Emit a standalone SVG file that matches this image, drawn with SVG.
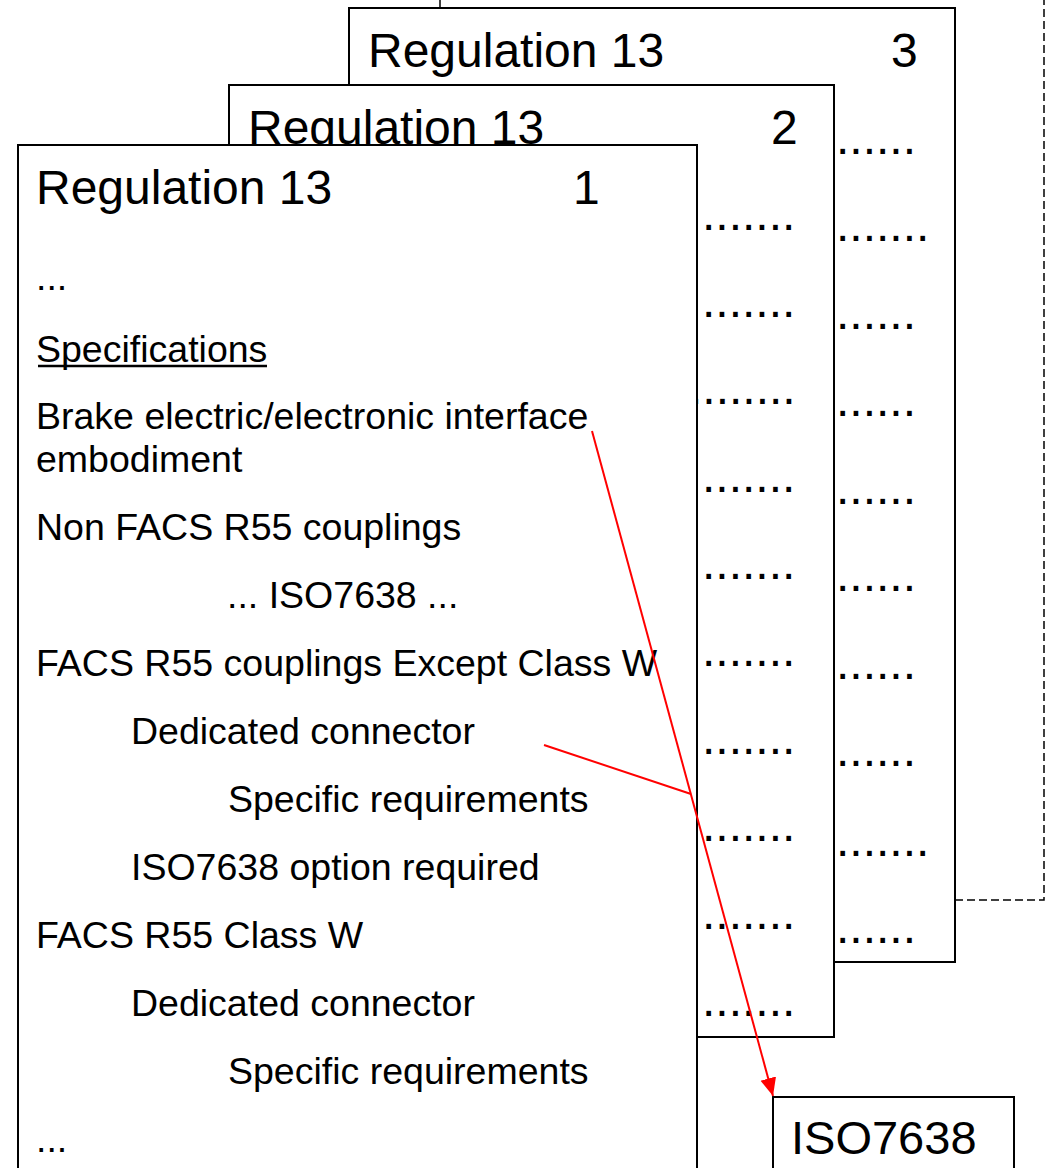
<svg xmlns="http://www.w3.org/2000/svg" width="1046" height="1168" viewBox="0 0 1046 1168">
<style>
.box{fill:#fff;stroke:#000;stroke-width:2}
.t{font-family:"Liberation Sans",Arial,sans-serif;fill:#000}
.title{font-size:48px}
.body{font-size:37.5px}
.dots{font-size:48px}
.red{stroke:#f00;stroke-width:2;fill:none}
.dash{stroke:#000;stroke-width:1.5;fill:none;stroke-dasharray:8 4}
</style>
<defs>
<marker id="ah" markerUnits="userSpaceOnUse" markerWidth="20" markerHeight="20" viewBox="0 0 20 20" refX="18" refY="10" orient="auto">
<path d="M0,2 L18,10 L0,18 Z" fill="#f00"/>
</marker>
</defs>
<rect width="1046" height="1168" fill="#fff"/>
<g id="box3">
<rect class="box" x="349" y="8" width="606" height="954"/>
<text class="t title" x="368" y="67">Regulation 13</text>
<text class="t title" x="891" y="67">3</text>
<g class="t dots">
<text x="836" y="154">......</text>
<text x="836" y="241">.......</text>
<text x="836" y="329">......</text>
<text x="836" y="416">......</text>
<text x="836" y="504">......</text>
<text x="836" y="591">......</text>
<text x="836" y="679">......</text>
<text x="836" y="766">......</text>
<text x="836" y="856">.......</text>
<text x="836" y="943">......</text>
</g>
</g>
<g id="box2">
<rect class="box" x="229" y="85" width="605" height="952"/>
<text class="t title" x="248" y="144">Regulation 13</text>
<text class="t title" x="771" y="144">2</text>
<g class="t dots">
<text x="702" y="230">.......</text>
<text x="702" y="317">.......</text>
<text x="689" y="404">........</text>
<text x="702" y="492">.......</text>
<text x="702" y="579">.......</text>
<text x="702" y="666">.......</text>
<text x="702" y="754">.......</text>
<text x="702" y="841">.......</text>
<text x="702" y="929">.......</text>
<text x="702" y="1016">.......</text>
</g>
</g>
<g id="box1">
<rect class="box" x="18" y="145" width="679" height="1035"/>
<text class="t title" x="36" y="204">Regulation 13</text>
<text class="t title" x="573" y="204">1</text>
<g class="t body">
<text x="36" y="290">...</text>
<text x="36" y="362">Specifications</text>
<text x="36" y="429">Brake electric/electronic interface</text>
<text x="36" y="472">embodiment</text>
<text x="36" y="540">Non FACS R55 couplings</text>
<text x="227" y="608">... ISO7638 ...</text>
<text x="36" y="676">FACS R55 couplings Except Class W</text>
<text x="131" y="744">Dedicated connector</text>
<text x="228" y="812">Specific requirements</text>
<text x="131" y="880">ISO7638 option required</text>
<text x="36" y="948">FACS R55 Class W</text>
<text x="131" y="1016">Dedicated connector</text>
<text x="228" y="1084">Specific requirements</text>
<text x="36" y="1152">...</text>
</g>
<line x1="38" y1="366" x2="267" y2="366" stroke="#000" stroke-width="2.5"/>
</g>
<g id="iso7638">
<rect class="box" x="773" y="1097" width="241" height="80"/>
<text class="t" x="791" y="1154" font-size="47">ISO7638</text>
</g>
<g id="connectors">
<line class="red" x1="592" y1="431" x2="773" y2="1096" marker-end="url(#ah)"/>
<line class="red" x1="544" y1="745" x2="691" y2="794"/>
<polyline class="dash" points="955,900 1044,900 1044,0"/>
<line x1="440" y1="0" x2="440" y2="8" stroke="#000" stroke-width="1.5"/>
</g>
</svg>
